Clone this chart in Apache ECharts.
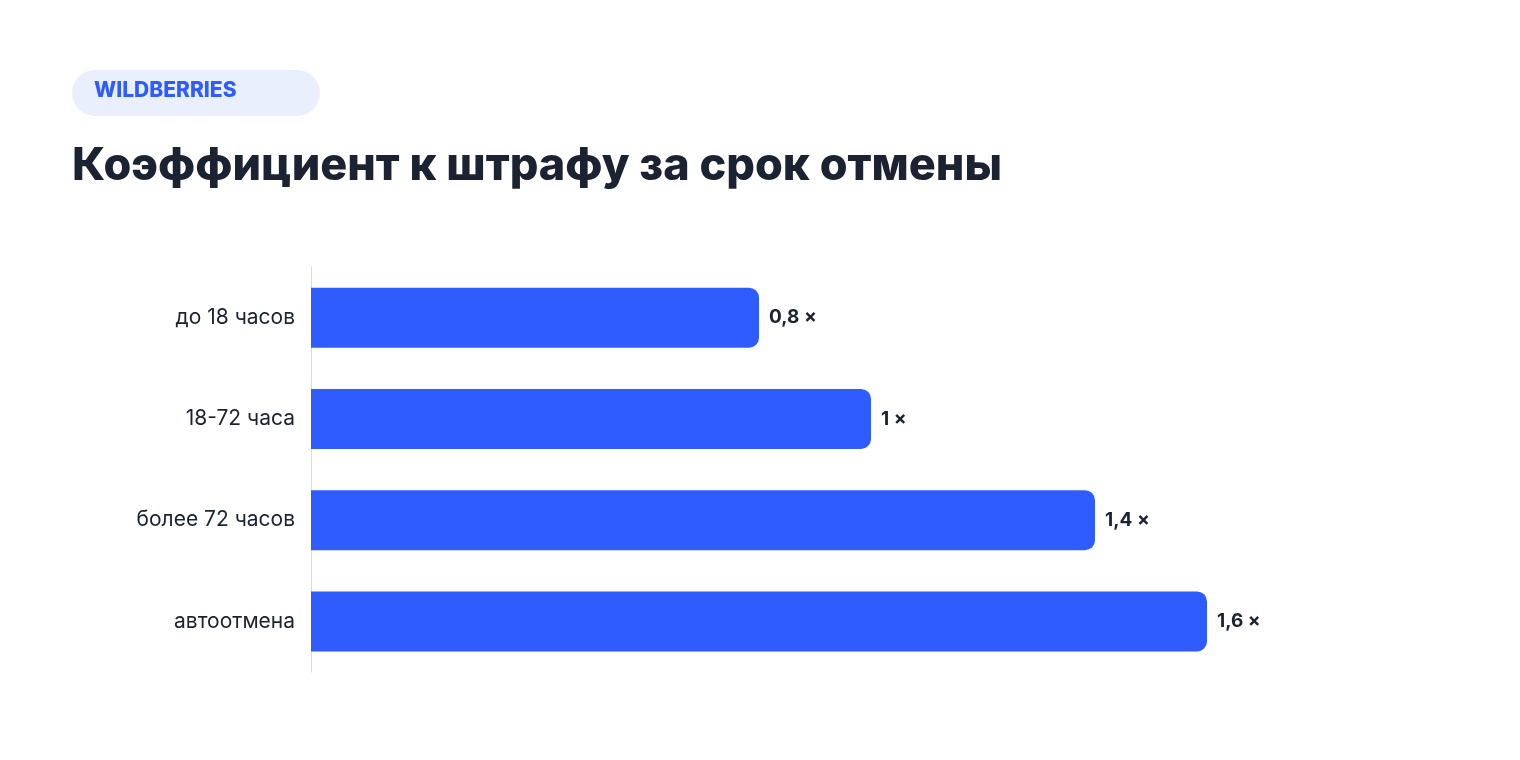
<!DOCTYPE html>
<html><head><meta charset="utf-8">
<script src="https://cdn.jsdelivr.net/npm/echarts@6/dist/echarts.min.js"></script>
<style>html,body{margin:0;padding:0;background:#fff}#c{width:1520px;height:760px}</style>
</head><body><div id="c"></div>
<script>
const categories = ['до 18 часов', '18-72 часа', 'более 72 часов', 'автоотмена'];
const values = [0.8, 1, 1.4, 1.6];
const valueLabels = ['0,8 ×', '1 ×', '1,4 ×', '1,6 ×'];
const chart = echarts.init(document.getElementById('c'));
chart.setOption({
  backgroundColor: '#fff',
  animation: false,
  graphic: [
    {type:'rect', left:72, top:70, shape:{width:248, height:46, r:23}, style:{fill:'#e9effd'}},
    {type:'text', left:94, top:80, style:{text:'WILDBERRIES', font:'800 21px Inter, "Noto Sans", sans-serif', fill:'#2f5cff', letterSpacing:1}},
    {type:'text', left:72, top:144, style:{text:'Коэффициент к штрафу за срок отмены', font:'800 45px Inter, "Noto Sans", sans-serif', fill:'#1b2333'}}
  ],
  grid: {left:311, right:89, top:267, bottom:88, containLabel:false},
  xAxis: {type:'value', min:0, max:2, show:false},
  yAxis: {type:'category', data:categories, inverse:true,
    axisLine:{show:true, lineStyle:{color:'#d8dbe0', width:1}},
    axisTick:{show:false},
    axisLabel:{color:'#1b2333', fontSize:21, fontFamily:'Inter, "Noto Sans", sans-serif', margin:16}},
  series: [{
    type:'bar', data:values, barWidth:60,
    itemStyle:{color:'#2f5cff', borderRadius:[0,10,10,0]},
    label:{show:true, position:'right', distance:10, formatter:p=>valueLabels[p.dataIndex],
      color:'#1b2333', fontSize:19, fontWeight:'bold', fontFamily:'Inter, "Noto Sans", sans-serif'}
  }]
});
</script></body></html>
